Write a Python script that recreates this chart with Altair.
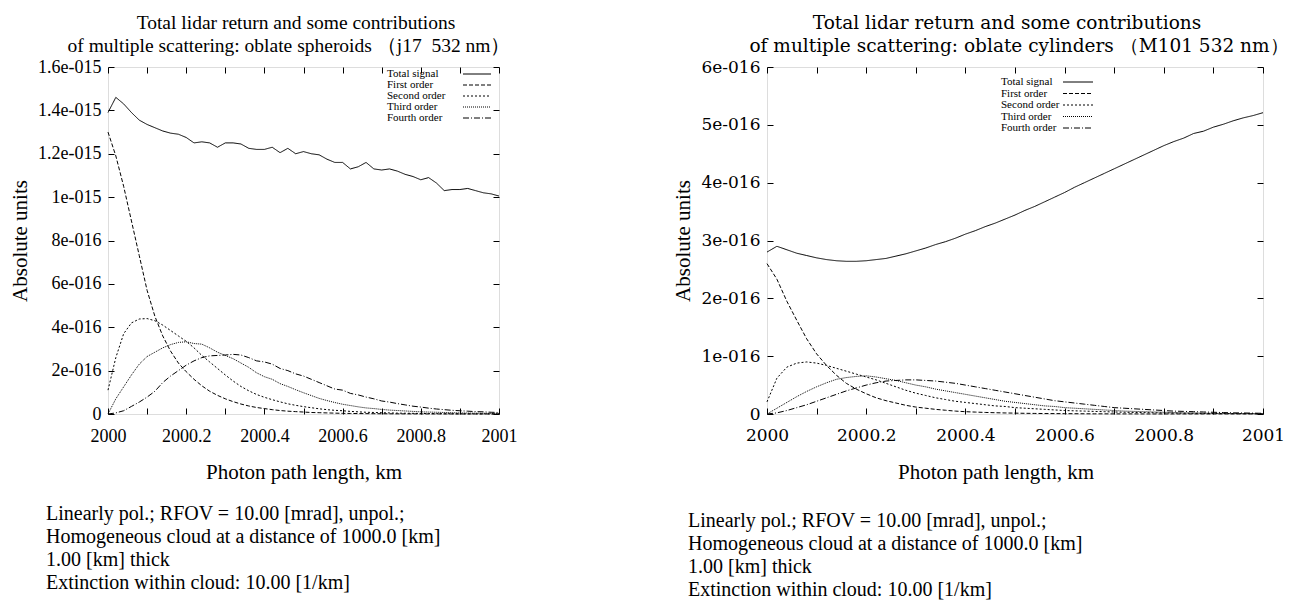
import altair as alt
import pandas as pd

PATH_KM = [2000.00, 2000.02, 2000.04, 2000.06, 2000.08, 2000.10, 2000.12, 2000.14, 2000.16, 2000.18,
           2000.20, 2000.22, 2000.24, 2000.26, 2000.28, 2000.30, 2000.32, 2000.34, 2000.36, 2000.38,
           2000.40, 2000.42, 2000.44, 2000.46, 2000.48, 2000.50, 2000.52, 2000.54, 2000.56, 2000.58,
           2000.60, 2000.62, 2000.64, 2000.66, 2000.68, 2000.70, 2000.72, 2000.74, 2000.76, 2000.78,
           2000.80, 2000.82, 2000.84, 2000.86, 2000.88, 2000.90, 2000.92, 2000.94, 2000.96, 2000.98,
           2001.00]

SERIES = ["Total signal", "First order", "Second order", "Third order", "Fourth order"]
DASHES = [[1, 0], [4, 2], [2, 2], [1, 1], [6, 2, 1, 2]]

# Left panel (oblate spheroids), values in units of 1e-16
L_TOTAL = [13.9, 14.6, 14.3, 13.9, 13.55, 13.35, 13.2, 13.05, 12.95, 12.9,
           12.75, 12.5, 12.55, 12.5, 12.3, 12.5, 12.5, 12.45, 12.25, 12.2,
           12.2, 12.3, 12.05, 12.25, 12.0, 12.1, 12.0, 11.95, 11.75, 11.6,
           11.6, 11.3, 11.4, 11.6, 11.3, 11.25, 11.3, 11.2, 11.05, 10.95,
           10.8, 10.9, 10.65, 10.3, 10.35, 10.35, 10.4, 10.3, 10.2, 10.15, 10.05]
L_FIRST = [13.0, 11.9, 10.5, 8.9, 7.3, 5.7, 4.5, 3.6, 2.9, 2.35,
           1.95, 1.6, 1.3, 1.05, 0.86, 0.7, 0.57, 0.46, 0.37, 0.3,
           0.25, 0.2, 0.16, 0.13, 0.11, 0.09, 0.07, 0.06, 0.05, 0.04,
           0.03, 0.025, 0.02, 0.017, 0.014, 0.012, 0.01, 0.008, 0.007, 0.006,
           0.005, 0.004, 0.004, 0.003, 0.003, 0.002, 0.002, 0.002, 0.001, 0.001, 0.001]
L_SECOND = [1.1, 2.6, 3.7, 4.2, 4.38, 4.4, 4.3, 4.1, 3.85, 3.6,
            3.35, 3.05, 2.7, 2.4, 2.1, 1.8, 1.52, 1.27, 1.07, 0.9,
            0.77, 0.66, 0.56, 0.47, 0.4, 0.34, 0.29, 0.24, 0.2, 0.17,
            0.15, 0.12, 0.1, 0.08, 0.07, 0.06, 0.05, 0.04, 0.035, 0.03,
            0.025, 0.02, 0.018, 0.015, 0.012, 0.01, 0.009, 0.008, 0.007, 0.006, 0.005]
L_THIRD = [0.0, 0.7, 1.25, 1.8, 2.3, 2.65, 2.85, 3.05, 3.2, 3.3,
           3.33, 3.25, 3.22, 3.05, 2.85, 2.7, 2.55, 2.35, 2.15, 1.9,
           1.72, 1.6, 1.4, 1.27, 1.12, 0.98, 0.85, 0.72, 0.62, 0.53,
           0.45, 0.39, 0.33, 0.28, 0.25, 0.21, 0.18, 0.16, 0.14, 0.12,
           0.1, 0.09, 0.08, 0.07, 0.06, 0.05, 0.045, 0.04, 0.035, 0.03, 0.03]
L_FOURTH = [0.0, 0.05, 0.15, 0.35, 0.55, 0.78, 1.05, 1.45, 1.75, 2.0,
            2.25, 2.45, 2.6, 2.68, 2.7, 2.72, 2.75, 2.72, 2.6, 2.45,
            2.4, 2.3, 2.1, 2.0, 1.85, 1.75, 1.6, 1.45, 1.3, 1.15,
            1.1, 0.95, 0.88, 0.78, 0.7, 0.6, 0.55, 0.48, 0.42, 0.36,
            0.32, 0.27, 0.23, 0.2, 0.17, 0.15, 0.13, 0.11, 0.1, 0.08, 0.07]

# Right panel (oblate cylinders), values in units of 1e-16
R_TOTAL = [2.80, 2.90, 2.84, 2.78, 2.74, 2.70, 2.67, 2.65, 2.64, 2.64,
           2.65, 2.67, 2.69, 2.73, 2.77, 2.82, 2.87, 2.93, 2.98, 3.04,
           3.11, 3.17, 3.24, 3.30, 3.37, 3.44, 3.52, 3.59, 3.67, 3.75,
           3.83, 3.92, 4.00, 4.08, 4.16, 4.24, 4.32, 4.40, 4.48, 4.56,
           4.64, 4.71, 4.77, 4.85, 4.89, 4.96, 5.01, 5.07, 5.12, 5.16, 5.21]
R_FIRST = [2.60, 2.33, 1.95, 1.62, 1.30, 1.04, 0.84, 0.67, 0.53, 0.43,
           0.35, 0.28, 0.23, 0.19, 0.15, 0.12, 0.10, 0.08, 0.065, 0.05,
           0.04, 0.033, 0.027, 0.022, 0.018, 0.015, 0.012, 0.01, 0.008, 0.007,
           0.006, 0.005, 0.004, 0.003, 0.003, 0.002, 0.002, 0.002, 0.001, 0.001,
           0.001, 0.001, 0.001, 0.001, 0.001, 0.001, 0.001, 0.001, 0.001, 0.001, 0.001]
R_SECOND = [0.21, 0.62, 0.81, 0.88, 0.90, 0.88, 0.84, 0.79, 0.74, 0.69,
            0.64, 0.59, 0.53, 0.47, 0.41, 0.36, 0.32, 0.28, 0.25, 0.22,
            0.20, 0.18, 0.16, 0.14, 0.13, 0.11, 0.10, 0.09, 0.08, 0.07,
            0.06, 0.055, 0.05, 0.045, 0.04, 0.035, 0.03, 0.027, 0.024, 0.021,
            0.018, 0.016, 0.014, 0.012, 0.01, 0.009, 0.008, 0.007, 0.006, 0.005, 0.004]
R_THIRD = [0.0, 0.10, 0.20, 0.30, 0.39, 0.47, 0.54, 0.60, 0.63, 0.65,
           0.66, 0.64, 0.61, 0.58, 0.54, 0.50, 0.47, 0.43, 0.40, 0.37,
           0.34, 0.31, 0.28, 0.25, 0.22, 0.20, 0.18, 0.16, 0.14, 0.13,
           0.11, 0.10, 0.09, 0.08, 0.07, 0.06, 0.05, 0.045, 0.04, 0.035,
           0.03, 0.025, 0.02, 0.018, 0.015, 0.012, 0.01, 0.009, 0.008, 0.007, 0.006]
R_FOURTH = [0.0, 0.02, 0.06, 0.11, 0.16, 0.22, 0.28, 0.34, 0.40, 0.45,
            0.50, 0.54, 0.57, 0.58, 0.59, 0.59, 0.58, 0.57, 0.55, 0.53,
            0.50, 0.47, 0.44, 0.41, 0.38, 0.35, 0.32, 0.29, 0.26, 0.23,
            0.21, 0.19, 0.17, 0.15, 0.13, 0.11, 0.10, 0.09, 0.08, 0.07,
            0.06, 0.05, 0.045, 0.04, 0.035, 0.03, 0.025, 0.02, 0.018, 0.015, 0.012]

X_TICKS = [2000.0, 2000.1, 2000.2, 2000.3, 2000.4, 2000.5, 2000.6, 2000.7, 2000.8, 2000.9, 2001.0]
L_YTICKS = [0, 2e-16, 4e-16, 6e-16, 8e-16, 1e-15, 1.2e-15, 1.4e-15, 1.6e-15]
R_YTICKS = [0, 1e-16, 2e-16, 3e-16, 4e-16, 5e-16, 6e-16]

NOTES = ["Linearly pol.; RFOV = 10.00 [mrad], unpol.;",
         "Homogeneous cloud at a distance of 1000.0 [km]",
         "1.00 [km] thick",
         "Extinction within cloud: 10.00 [1/km]"]

TITLE1 = "Total lidar return and some contributions"
L_TITLE2 = "of multiple scattering: oblate spheroids \uff08j17\u2002532 nm\uff09"
R_TITLE2 = "of multiple scattering: oblate cylinders \uff08M101 532 nm\uff09"

SERIF = "Liberation Serif, Times New Roman, Times, serif"
WIDE = "DejaVu Serif, serif"
XLAB = "round(datum.value*10) % 2 == 0 ? format(datum.value, '~g') : ''"
YLAB = "datum.value == 0 ? '0' : replace(format(datum.value, '~e'), 'e-', 'e-0')"


def long_df(cols):
    rows = []
    for name, vals in zip(SERIES, cols):
        for x, v in zip(PATH_KM, vals):
            rows.append({"x": x, "v": v * 1e-16, "series": name})
    return pd.DataFrame(rows)


def txt(s, x, y, size, font=SERIF, align="center", angle=0):
    return alt.Chart(pd.DataFrame({"t": [s]})).mark_text(
        align=align, baseline="middle", fontSize=size, font=font, angle=angle, color="black"
    ).encode(text="t:N", x=alt.value(x), y=alt.value(y))


def seg(x1, x2, y, dash):
    return alt.Chart(pd.DataFrame({"t": [0]})).mark_rule(
        color="black", strokeWidth=1, strokeDash=dash
    ).encode(x=alt.value(x1), x2=alt.value(x2), y=alt.value(y))


def panel(df, W, H, ymax, yticks, tick_font, tick_size, title2, title_font, title_size, pos, anchor=False):
    xs = alt.Scale(domain=[2000, 2001], nice=False, zero=False)
    ys = alt.Scale(domain=[0, ymax], nice=False, zero=True)
    base = alt.Chart(df)
    lines = base.mark_line(color="black", strokeWidth=1).encode(
        x=alt.X("x:Q", scale=xs, axis=alt.Axis(
            orient="bottom", values=X_TICKS, labelExpr=XLAB, offset=-6, tickSize=6, domain=False,
            grid=False, labelFont=tick_font, labelFontSize=tick_size, labelPadding=13,
            labelOverlap=False, labelFlush=False, title=None, labelColor="black", tickColor="black")),
        y=alt.Y("v:Q", scale=ys, axis=alt.Axis(
            orient="left", values=yticks, labelExpr=YLAB, offset=-6, tickSize=6, domain=False,
            grid=False, labelFont=tick_font, labelFontSize=tick_size, labelPadding=7,
            labelOverlap=False, labelFlush=False, title=None, labelColor="black", tickColor="black")),
        strokeDash=alt.StrokeDash("series:N", scale=alt.Scale(domain=SERIES, range=DASHES), legend=None),
    )
    mirror = base.mark_line(strokeOpacity=0).encode(
        x=alt.X("x:Q", scale=xs, axis=alt.Axis(
            orient="top", values=X_TICKS, labels=False, offset=-6, tickSize=6, domain=False,
            grid=False, title=None, tickColor="black")),
        y=alt.Y("v:Q", scale=ys, axis=alt.Axis(
            orient="right", values=yticks, labels=False, offset=-6, tickSize=6, domain=False,
            grid=False, title=None, tickColor="black")),
        detail="series:N",
    )
    layers = [lines, mirror]
    layers.append(txt(TITLE1, pos["t1"][0], pos["t1"][1], title_size, title_font))
    layers.append(txt(title2, pos["t2"][0], pos["t2"][1], title_size, title_font))
    layers.append(txt("Absolute units", pos["yt"][0], pos["yt"][1], 21, SERIF, angle=270))
    layers.append(txt("Photon path length, km", pos["xt"][0], pos["xt"][1], 21, SERIF))
    for i, line in enumerate(NOTES):
        layers.append(txt(line, pos["notes"][0], pos["notes"][1] + 23 * i, 20, SERIF, align="left"))
    lx, ly, l1, l2, lstep, lsize = pos["legend"]
    for i, (name, dash) in enumerate(zip(SERIES, DASHES)):
        layers.append(txt(name, lx, ly + lstep * i, lsize, SERIF, align="left"))
        layers.append(seg(l1, l2, ly + lstep * i, dash))
    if anchor:
        layers.append(alt.Chart(pd.DataFrame({"t": [0]})).mark_rect(opacity=0).encode(
            x=alt.value(-99), x2=alt.value(-98), y=alt.value(-58), y2=alt.value(-57)))
    return alt.layer(*layers).resolve_axis(x="independent", y="independent").properties(width=W, height=H)


left_df = long_df([L_TOTAL, L_FIRST, L_SECOND, L_THIRD, L_FOURTH])
right_df = long_df([R_TOTAL, R_FIRST, R_SECOND, R_THIRD, R_FOURTH])

left = panel(left_df, 391, 347, 1.6e-15, L_YTICKS, SERIF, 18, L_TITLE2, SERIF, 19.5,
             {"t1": (188, -44), "t2": (181, -21), "yt": (-87, 174), "xt": (196, 406),
              "notes": (-62, 447), "legend": (279, 7, 355, 383, 11, 11)}, anchor=True)
right = panel(right_df, 496, 347, 6e-16, R_YTICKS, WIDE, 17, R_TITLE2, WIDE, 18.5,
              {"t1": (240, -44), "t2": (252, -21), "yt": (-83, 174), "xt": (229, 406),
               "notes": (-79, 454), "legend": (234, 15, 296, 326, 11.5, 11)})

chart = alt.hconcat(left, right, spacing=268, bounds="flush").properties(padding=0).configure_view(
    stroke="black", strokeWidth=1.2
).configure(background="white")

chart.save("out.html", embed_options={"renderer": "svg", "actions": False})
